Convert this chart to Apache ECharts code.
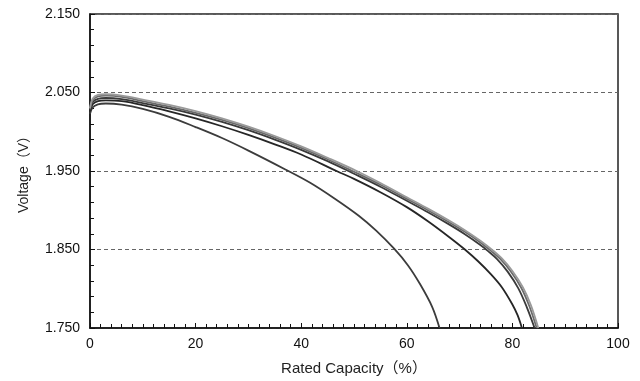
<!DOCTYPE html>
<html>
<head>
<meta charset="utf-8">
<script src="https://cdn.jsdelivr.net/npm/echarts@6/dist/echarts.min.js"></script>
<style>
  html, body { margin: 0; padding: 0; background: #fff; }
  #chart { width: 640px; height: 381px; }
</style>
</head>
<body>
<div id="chart"></div>
<script>
// Discharge curves: [rated capacity %, voltage V]
const curveA = [[0,2.023],[0.5,2.031],[1.5,2.035],[3,2.036],[6,2.0345],[10,2.029],[15,2.019],[20,2.006],[25,1.992],[30,1.976],[37,1.952],[41.7,1.935],[46.3,1.915],[50.9,1.893],[54.2,1.874],[57.6,1.851],[60.2,1.830],[62.5,1.806],[64.8,1.777],[66.2,1.750]];
const curveB = [[0,2.026],[0.5,2.035],[1.5,2.039],[3,2.040],[6,2.039],[10,2.034],[15,2.026],[20,2.017],[25,2.007],[30,1.996],[35,1.984],[40,1.971],[46.7,1.950],[50,1.940],[55,1.923],[60,1.904],[64,1.886],[68,1.866],[71,1.850],[73.5,1.835],[76,1.818],[78,1.802],[80,1.780],[81,1.766],[81.8,1.750]];
const curveC = [[0,2.028],[0.5,2.038],[1.5,2.042],[3,2.043],[6,2.0415],[10,2.0365],[15,2.0298],[20,2.0219],[25,2.0126],[30,2.002],[35,1.990],[40,1.977],[45,1.9625],[50,1.9465],[55,1.930],[60,1.912],[64,1.8975],[68,1.882],[71,1.8695],[74,1.8555],[75.4,1.848],[77.1,1.8378],[79.1,1.8218],[81.1,1.8008],[82.7,1.777],[84.2,1.750]];
const curveD = [[0,2.029],[0.5,2.040],[1.5,2.045],[3,2.046],[6,2.0445],[10,2.039],[15,2.032],[20,2.024],[25,2.015],[30,2.0045],[35,1.9925],[40,1.9795],[45,1.965],[50,1.949],[55,1.9325],[60,1.9145],[64,1.900],[68,1.8848],[71,1.8725],[74,1.8587],[76,1.848],[77.7,1.838],[79.7,1.822],[81.7,1.801],[83.2,1.778],[84.6,1.750]];
const curveE = [[0,2.030],[0.5,2.042],[1.5,2.047],[3,2.0478],[6,2.046],[10,2.041],[15,2.0343],[20,2.0264],[25,2.0171],[30,2.0065],[35,1.9946],[40,1.9814],[45,1.9668],[50.5,1.950],[55,1.9347],[60,1.9165],[64,1.9021],[68,1.8869],[71,1.8746],[74,1.8608],[76.3,1.8488],[78,1.8386],[80,1.8226],[82,1.8016],[83.5,1.7791],[84.9,1.750]];

const curves = [
  { data: curveA, color: '#3c3c3c' },
  { data: curveB, color: '#262626' },
  { data: curveC, color: '#3a3a3a' },
  { data: curveD, color: '#6a6a6a' },
  { data: curveE, color: '#9a9a9a' }
];

const xTitle = 'Rated Capacity（%）';
const yTitle = 'Voltage（V）';

const font = '"Liberation Sans", Arial, "Noto Sans CJK JP", sans-serif';

const chart = echarts.init(document.getElementById('chart'), null, { renderer: 'canvas' });
chart.setOption({
  animation: false,
  backgroundColor: '#fff',
  grid: {
    left: 90, right: 22, top: 14, bottom: 52,
    show: true, borderColor: '#222', borderWidth: 1.5, backgroundColor: 'transparent'
  },
  xAxis: {
    type: 'value', min: 0, max: 100, interval: 20,
    name: xTitle, nameLocation: 'middle', nameGap: 33,
    nameTextStyle: { fontFamily: font, fontSize: 15, color: '#222' },
    axisLine: { show: true, lineStyle: { color: '#111', width: 1.5 } },
    axisTick: { show: true, inside: true, length: 5, lineStyle: { color: '#111', width: 1 } },
    minorTick: { show: true, splitNumber: 10, length: 4, lineStyle: { color: '#111', width: 1 } },
    axisLabel: { fontFamily: font, fontSize: 14, color: '#111', margin: 9 },
    splitLine: { show: false }
  },
  yAxis: {
    type: 'value', min: 1.75, max: 2.15, interval: 0.1,
    name: yTitle, nameLocation: 'middle', nameGap: 59, nameRotate: 90,
    nameTextStyle: { fontFamily: font, fontSize: 14, color: '#222' },
    axisLine: { show: true, lineStyle: { color: '#111', width: 1.5 } },
    axisTick: { show: true, inside: true, length: 5, lineStyle: { color: '#111', width: 1 } },
    minorTick: { show: true, splitNumber: 5, length: 4, lineStyle: { color: '#111', width: 1 } },
    axisLabel: { fontFamily: font, fontSize: 14, color: '#111', margin: 10,
      formatter: v => v.toFixed(3) },
    splitLine: { show: true, lineStyle: { color: '#666', type: [4, 3], width: 1 } }
  },
  series: curves.map(c => ({
    type: 'line',
    data: c.data,
    showSymbol: false,
    smooth: 0.35,
    clip: true,
    lineStyle: { color: c.color, width: 1.8 }
  }))
});
</script>
</body>
</html>
